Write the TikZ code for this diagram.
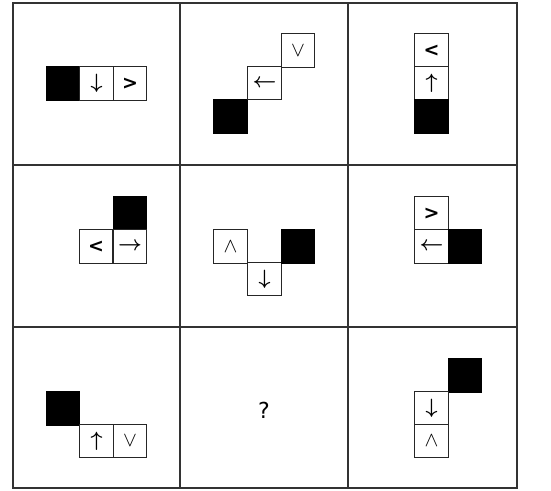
\documentclass[tikz,border=0pt]{standalone}
\usepackage{fontspec}
\setmainfont{DejaVu Sans}
\begin{document}
\begin{tikzpicture}[x=1pt,y=-1pt,
  cellbox/.style={draw=black!85,line width=1pt,minimum size=33.5pt,inner sep=0pt,fill=white},
  blackbox/.style={draw=black,line width=1pt,minimum size=33.5pt,inner sep=0pt,fill=black},
  arr/.style={inner sep=0pt,font=\fontsize{21}{21}\selectfont\boldmath},
  ang/.style={inner sep=0pt,font=\bfseries\fontsize{19}{19}\selectfont},
  lgc/.style={inner sep=0pt,font=\fontsize{21}{21}\selectfont},
  qm/.style={font=\fontsize{22}{22}\selectfont},
  frame/.style={draw=black!80,line width=1.4pt}]
\useasboundingbox (0,0) rectangle (551,490);
% grid
\coordinate (tl) at (13,3);
\coordinate (br) at (517,488);
\draw[frame] (tl) rectangle (br);
\coordinate (c1t) at (180,3); \coordinate (c1b) at (180,488);
\coordinate (c2t) at (348,3); \coordinate (c2b) at (348,488);
\coordinate (r1l) at (13,165); \coordinate (r1r) at (517,165);
\coordinate (r2l) at (13,327); \coordinate (r2r) at (517,327);
\draw[frame] (c1t) -- (c1b);
\draw[frame] (c2t) -- (c2b);
\draw[frame] (r1l) -- (r1r);
\draw[frame] (r2l) -- (r2r);
% row 1 col 1
\node[blackbox] (a1) at (63,83.5) {};
\node[cellbox] (a2) at (96.5,83.5) {};
\node[arr] (a2t) at (a2) {$\downarrow$};
\node[cellbox] (a3) at (130,83.5) {};
\node[ang] (a3t) at (a3) {>};
% row 1 col 2
\node[blackbox] (b1) at (230.5,116.5) {};
\node[cellbox] (b2) at (264.5,83) {};
\node[arr] (b2t) at (b2) {$\leftarrow$};
\node[cellbox] (b3) at (298,50.5) {};
\node[lgc] (b3t) at (b3) {$\vee$};
% row 1 col 3
\node[cellbox] (c1) at (431.5,50.5) {};
\node[ang] (c1t) at (c1) {<};
\node[cellbox] (c2) at (431.5,83) {};
\node[arr] (c2t) at (c2) {$\uparrow$};
\node[blackbox] (c3) at (431.5,116.5) {};
% row 2 col 1
\node[blackbox] (d1) at (130,213.5) {};
\node[cellbox] (d2) at (96,246.5) {};
\node[ang] (d2t) at (d2) {<};
\node[cellbox] (d3) at (130,246.5) {};
\node[arr] (d3t) at (d3) {$\rightarrow$};
% row 2 col 2
\node[cellbox] (e1) at (230.5,246.5) {};
\node[lgc] (e1t) at (e1) {$\wedge$};
\node[cellbox] (e2) at (264.5,279) {};
\node[arr] (e2t) at (e2) {$\downarrow$};
\node[blackbox] (e3) at (298,246.5) {};
% row 2 col 3
\node[cellbox] (f1) at (431.5,213.5) {};
\node[ang] (f1t) at (f1) {>};
\node[cellbox] (f2) at (431.5,246.5) {};
\node[arr] (f2t) at (f2) {$\leftarrow$};
\node[blackbox] (f3) at (465,246.5) {};
% row 3 col 1
\node[blackbox] (g1) at (63,408.5) {};
\node[cellbox] (g2) at (96.5,441) {};
\node[arr] (g2t) at (g2) {$\uparrow$};
\node[cellbox] (g3) at (130,441) {};
\node[lgc] (g3t) at (g3) {$\vee$};
% row 3 col 2
\node[qm] (h1) at (264,410) {?};
% row 3 col 3
\node[blackbox] (i1) at (465,375.5) {};
\node[cellbox] (i2) at (431.5,408.5) {};
\node[arr] (i2t) at (i2) {$\downarrow$};
\node[cellbox] (i3) at (431.5,441) {};
\node[lgc] (i3t) at (i3) {$\wedge$};
\end{tikzpicture}
\end{document}
